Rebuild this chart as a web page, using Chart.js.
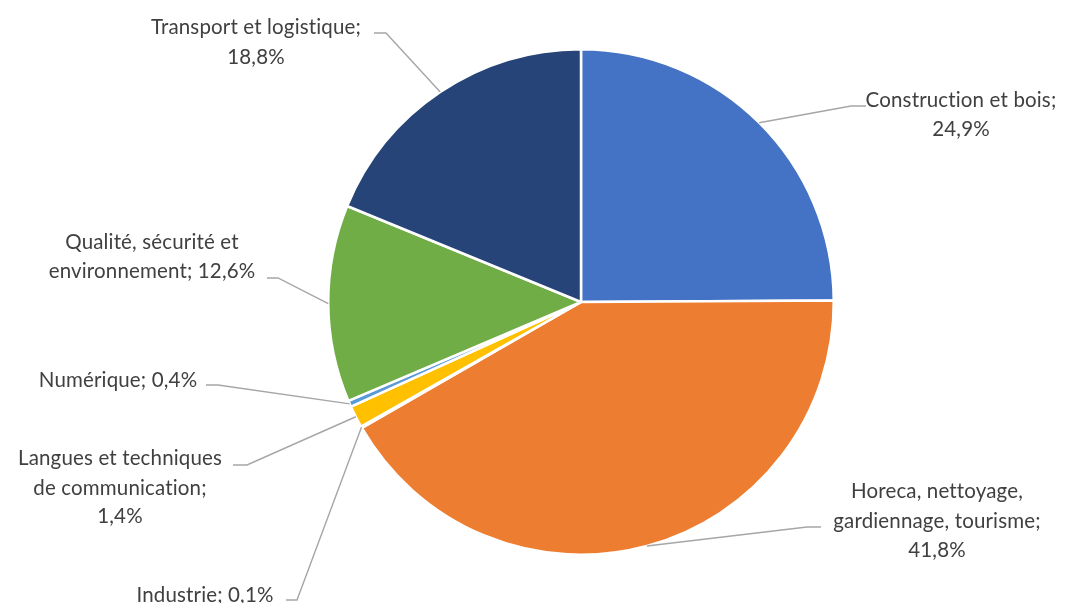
<!DOCTYPE html>
<html>
<head>
<meta charset="utf-8">
<script src="https://cdn.jsdelivr.net/npm/chart.js@4/dist/chart.umd.min.js"></script>
<style>
  html, body { margin: 0; padding: 0; background: #ffffff; }
  #wrap { width: 1070px; height: 603px; position: relative; }
</style>
</head>
<body>
<div id="wrap"><canvas id="pie" width="1070" height="603"></canvas></div>
<script>
// Sectors and their shares (%)
const categories = [
  "Construction et bois",
  "Horeca, nettoyage, gardiennage, tourisme",
  "Industrie",
  "Langues et techniques de communication",
  "Numérique",
  "Qualité, sécurité et environnement",
  "Transport et logistique"
];
const shares = [24.9, 41.8, 0.1, 1.4, 0.4, 12.6, 18.8];
const sliceColors = ["#4472C4", "#ED7D31", "#A5A5A5", "#FFC000", "#5B9BD5", "#70AD47", "#264478"];

// Label text lines (the value is appended from `shares`)
const labelLines = [
  ["Construction et bois;", "{v}"],
  ["Horeca, nettoyage,", "gardiennage, tourisme;", "{v}"],
  ["Industrie; {v}"],
  ["Langues et techniques", "de communication;", "{v}"],
  ["Numérique; {v}"],
  ["Qualité, sécurité et", "environnement; {v}"],
  ["Transport et logistique;", "{v}"]
];

// Where each label block sits and where its leader line's short horizontal stub runs
const labelLayout = [
  { cx: 961, y: [100, 129],      stub: [866, 851, 106] },
  { cx: 937, y: [491, 521, 550], stub: [821, 807, 527] },
  { cx: 205, y: [595],           stub: [286, 297, 600] },
  { cx: 120, y: [458, 488, 516], stub: [233, 247, 465] },
  { cx: 118, y: [380],           stub: [206, 218, 385] },
  { cx: 152, y: [242, 271],      stub: [267, 278, 278] },
  { cx: 256, y: [27, 57],        stub: [374, 386, 33] }
];

const fmt = v => v.toFixed(1).replace(".", ",") + "%";
const FAMILY = "Lato, 'Open Sans', sans-serif";

const labelPlugin = {
  id: "pieLabels",
  afterDatasetsDraw(chart) {
    const ctx = chart.ctx;
    const arcs = chart.getDatasetMeta(0).data;
    ctx.save();
    ctx.letterSpacing = "0.15px";
    // size the label font so a reference line spans 191px
    ctx.font = "20px " + FAMILY;
    const w = ctx.measureText("Construction et bois;").width;
    const size = 20 * 191 / w;
    arcs.forEach((arc, i) => {
      const p = arc.getProps(["x", "y", "startAngle", "endAngle", "outerRadius"], true);
      const mid = (p.startAngle + p.endAngle) / 2;
      const ax = p.x + Math.cos(mid) * p.outerRadius;
      const ay = p.y + Math.sin(mid) * p.outerRadius;
      const L = labelLayout[i];
      ctx.strokeStyle = "#A6A6A6";
      ctx.lineWidth = 1.4;
      ctx.beginPath();
      ctx.moveTo(L.stub[0], L.stub[2]);
      ctx.lineTo(L.stub[1], L.stub[2]);
      ctx.lineTo(ax, ay);
      ctx.stroke();

      ctx.fillStyle = "#404040";
      ctx.font = size.toFixed(2) + "px " + FAMILY;
      ctx.textAlign = "center";
      ctx.textBaseline = "middle";
      labelLines[i].forEach((t, k) => {
        ctx.fillText(t.replace("{v}", fmt(shares[i])), L.cx, L.y[k]);
      });
    });
    ctx.restore();
  }
};

new Chart(document.getElementById("pie"), {
  type: "pie",
  data: {
    labels: categories,
    datasets: [{
      data: shares,
      backgroundColor: sliceColors,
      borderColor: "#ffffff",
      borderWidth: 2.5
    }]
  },
  options: {
    responsive: false,
    animation: false,
    layout: { padding: { left: 327, right: 235, top: 48, bottom: 47 } },
    plugins: { legend: { display: false }, tooltip: { enabled: false } }
  },
  plugins: [labelPlugin]
});
</script>
</body>
</html>
